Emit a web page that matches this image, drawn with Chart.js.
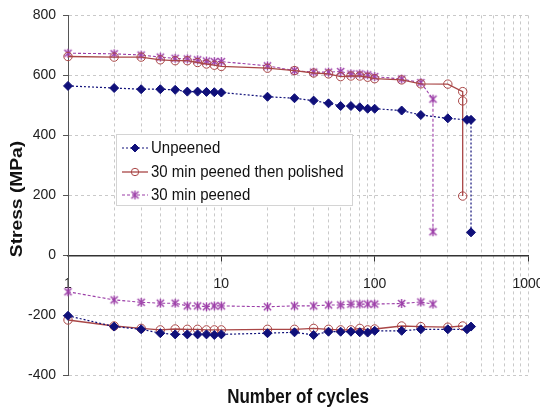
<!DOCTYPE html>
<html>
<head>
<meta charset="utf-8">
<script src="https://cdn.jsdelivr.net/npm/chart.js@4.4.1/dist/chart.umd.min.js"></script>
<style>
  html, body { margin: 0; padding: 0; background: #fff; }
</style>
</head>
<body>
<canvas id="fatigueChart" width="540" height="410"></canvas>
<script>
// ─── Data: peak stress per cycle (MPa), tension and compression branches ───
const unpeenedCycles    = [1, 2, 3, 4, 5, 6, 7, 8, 9, 10, 20, 30, 40, 50, 60, 70, 80, 90, 100, 150, 200, 300, 400, 425, 425];
const unpeenedMax       = [565, 558, 554, 554, 552, 546, 546, 545, 544, 543, 529, 524, 516, 507, 498, 498, 494, 489, 489, 483, 468, 457, 452, 452, 77];
const unpeenedMinCycles = [1, 2, 3, 4, 5, 6, 7, 8, 9, 10, 20, 30, 40, 50, 60, 70, 80, 90, 100, 150, 200, 300, 400, 425];
const unpeenedMin       = [-201, -237, -246, -259, -263, -263, -263, -263, -265, -263, -259, -256, -265, -254, -254, -254, -256, -257, -251, -251, -246, -246, -246, -237];

const polishedCycles    = [1, 2, 3, 4, 5, 6, 7, 8, 9, 10, 20, 30, 40, 50, 60, 70, 80, 90, 100, 150, 200, 300, 375, 375, 375];
const polishedMax       = [663, 661, 661, 652, 649, 649, 643, 638, 634, 630, 624, 616, 608, 605, 596, 598, 598, 594, 589, 585, 572, 571, 546, 515, 198];
const polishedMinCycles = [1, 2, 3, 4, 5, 6, 7, 8, 9, 10, 20, 30, 40, 50, 60, 70, 80, 90, 100, 150, 200, 300, 375];
const polishedMin       = [-215, -235, -243, -248, -245, -246, -246, -248, -248, -248, -246, -246, -243, -246, -248, -248, -243, -248, -245, -235, -237, -239, -235];

const peenedCycles      = [1, 2, 3, 4, 5, 6, 7, 8, 9, 10, 20, 30, 40, 50, 60, 70, 80, 90, 100, 150, 200, 240, 240];
const peenedMax         = [674, 672, 668, 661, 657, 655, 652, 648, 646, 646, 632, 616, 611, 611, 613, 605, 605, 602, 596, 588, 576, 521, 79];
const peenedMinCycles   = [1, 2, 3, 4, 5, 6, 7, 8, 9, 10, 20, 30, 40, 50, 60, 70, 80, 90, 100, 150, 200, 240];
const peenedMin         = [-121, -148, -156, -159, -159, -168, -168, -171, -168, -168, -171, -168, -168, -165, -165, -162, -162, -162, -162, -160, -155, -162];

const seriesNames = ['Unpeened', '30 min peened then polished', '30 min peened'];

// log axis gridlines: 1..9 in every decade, labels only on the decades
const decades   = [1, 10, 100];
const multiples = [1, 2, 3, 4, 5, 6, 7, 8, 9];
const cycleTicks = decades.flatMap(d => multiples.map(m => m * d)).concat([1000]);
const stressTicks = [-400, -200, 0, 200, 400, 600, 800];

// ─── Styles ───
const NAVY   = '#10107a';
const RED    = '#a94646';
const PURPLE = '#9c3ea8';
const FONT   = "'Liberation Sans', Arial, sans-serif";

const isDecade = v => {
    const l = Math.log10(v);
    return Math.abs(l - Math.round(l)) < 1e-9;
};

// asterisk marker (X plus vertical bar)
function makeStar(color, size) {
    const c = document.createElement('canvas');
    c.width = c.height = size;
    const g = c.getContext('2d');
    const m = size / 2, r = size / 2 - 1, d = r * 0.8;
    g.strokeStyle = color;
    g.lineWidth = 1.4;
    g.beginPath();
    g.moveTo(m, m - r);     g.lineTo(m, m + r);
    g.moveTo(m - d, m - d); g.lineTo(m + d, m + d);
    g.moveTo(m + d, m - d); g.lineTo(m - d, m + d);
    g.stroke();
    return c;
}
const starMarker = makeStar(PURPLE, 11);

const toPoints = (xs, ys) => xs.map((x, i) => ({ x, y: ys[i] }));

const styleUnpeened = {
    borderColor: NAVY, borderWidth: 1.2, borderDash: [2, 2],
    pointStyle: 'rectRot', pointRadius: 4.5,
    pointBackgroundColor: NAVY, pointBorderColor: NAVY, pointBorderWidth: 1
};
const stylePolished = {
    borderColor: RED, borderWidth: 1.3,
    pointStyle: 'circle', pointRadius: 4.2,
    pointBackgroundColor: 'rgba(255,255,255,0)', pointBorderColor: RED, pointBorderWidth: 1
};
const stylePeened = {
    borderColor: PURPLE, borderWidth: 1.1, borderDash: [3, 2],
    pointStyle: starMarker, pointRadius: 5,
    pointBorderColor: PURPLE
};

// ─── Legend + axis titles drawn on the canvas ───
const overlayPlugin = {
    id: 'overlay',
    afterDraw(chart) {
        const { ctx, chartArea } = chart;
        ctx.save();

        // legend box
        const bx = 116, by = 134, bw = 236, bh = 71;
        ctx.fillStyle = '#fff';
        ctx.fillRect(bx, by, bw, bh);
        ctx.strokeStyle = '#d4d4d4';
        ctx.lineWidth = 1;
        ctx.strokeRect(bx + 0.5, by + 0.5, bw, bh);

        const styles = [styleUnpeened, stylePolished, stylePeened];
        const rows = [148, 172, 195];
        styles.forEach((s, i) => {
            const y = rows[i];
            ctx.save();
            ctx.strokeStyle = s.borderColor;
            ctx.lineWidth = s.borderWidth;
            ctx.setLineDash(s.borderDash || []);
            ctx.beginPath();
            ctx.moveTo(122, y);
            ctx.lineTo(148, y);
            ctx.stroke();
            ctx.setLineDash([]);
            if (s.pointStyle instanceof HTMLCanvasElement) {
                ctx.drawImage(s.pointStyle, 135 - s.pointStyle.width / 2, y - s.pointStyle.height / 2);
            } else {
                ctx.fillStyle = s.pointBackgroundColor;
                ctx.strokeStyle = s.pointBorderColor;
                ctx.lineWidth = s.pointBorderWidth;
                Chart.helpers.drawPoint(ctx, { pointStyle: s.pointStyle, radius: s.pointRadius - 0.5, rotation: 0, borderWidth: 1 }, 135, y);
            }
            ctx.restore();

            ctx.save();
            ctx.fillStyle = '#111';
            ctx.font = `15px ${FONT}`;
            ctx.textBaseline = 'middle';
            ctx.translate(151, y);
            ctx.scale(1, 1.15);
            ctx.fillText(seriesNames[i], 0, 0);
            ctx.restore();
        });

        // x title
        ctx.fillStyle = '#111';
        ctx.font = `bold 17px ${FONT}`;
        ctx.textAlign = 'center';
        ctx.textBaseline = 'middle';
        ctx.save();
        ctx.translate((chartArea.left + chartArea.right) / 2, 398);
        ctx.scale(1, 1.15);
        ctx.fillText('Number of cycles', 0, 0);
        ctx.restore();

        // y title
        ctx.save();
        ctx.translate(18, 199);
        ctx.rotate(-Math.PI / 2);
        ctx.scale(1.2, 1);
        ctx.font = `bold 16px ${FONT}`;
        ctx.fillText('Stress (MPa)', 0, 0);
        ctx.restore();

        ctx.restore();
    }
};

// ─── Chart ───
const ctx = document.getElementById('fatigueChart').getContext('2d');
new Chart(ctx, {
    type: 'scatter',
    data: {
        datasets: [
            { label: seriesNames[0], data: toPoints(unpeenedCycles, unpeenedMax), ...styleUnpeened },
            { label: seriesNames[0], data: toPoints(unpeenedMinCycles, unpeenedMin), ...styleUnpeened },
            { label: seriesNames[1], data: toPoints(polishedCycles, polishedMax), ...stylePolished },
            { label: seriesNames[1], data: toPoints(polishedMinCycles, polishedMin), ...stylePolished },
            { label: seriesNames[2], data: toPoints(peenedCycles, peenedMax), ...stylePeened },
            { label: seriesNames[2], data: toPoints(peenedMinCycles, peenedMin), ...stylePeened }
        ].map(d => ({ ...d, showLine: true, clip: false }))
    },
    options: {
        responsive: false,
        animation: false,
        layout: { padding: { left: 0, right: 12, top: 15, bottom: 34.5 } },
        scales: {
            x: {
                type: 'logarithmic',
                position: { y: 0 },
                min: 1,
                max: 1000,
                afterBuildTicks: scale => {
                    scale.ticks = cycleTicks.map(v => ({ value: v, major: isDecade(v) }));
                },
                // the "1000" label may hang past the canvas edge
                afterFit: scale => { scale.paddingLeft = 0; scale.paddingRight = 0; },
                ticks: {
                    autoSkip: false,
                    maxRotation: 0,
                    padding: 15,
                    color: '#222',
                    font: { family: FONT, size: 14 },
                    callback: v => (isDecade(v) ? String(v) : '')
                },
                grid: {
                    color: '#c9c9c9',
                    lineWidth: 1,
                    drawTicks: true,
                    tickLength: 5,
                    tickColor: c => (c.tick && isDecade(c.tick.value) ? '#333' : 'rgba(0,0,0,0)')
                },
                border: { display: true, color: '#333', width: 1.5, dash: [3, 3] }
            },
            y: {
                type: 'linear',
                position: 'left',
                min: -400,
                max: 800,
                afterBuildTicks: scale => {
                    scale.ticks = stressTicks.map(v => ({ value: v }));
                },
                afterFit: scale => { scale.width = 68; },
                ticks: {
                    padding: 7,
                    color: '#222',
                    font: { family: FONT, size: 14 }
                },
                grid: {
                    color: c => (c.tick && c.tick.value === 0 ? 'rgba(0,0,0,0)' : '#c9c9c9'),
                    lineWidth: 1,
                    drawTicks: true,
                    tickLength: 5,
                    tickColor: '#555'
                },
                border: { display: true, color: '#555', width: 1, dash: [3, 3] }
            }
        },
        plugins: {
            legend: { display: false },
            tooltip: { enabled: false }
        }
    },
    plugins: [overlayPlugin]
});
</script>
</body>
</html>
